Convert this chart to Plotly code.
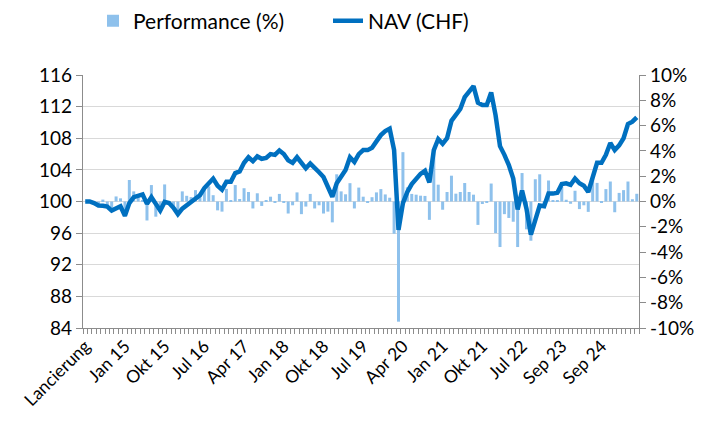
import plotly.graph_objects as go

# --- data ---
tick_labels = ["Lancierung", "Jan 15", "Okt 15", "Jul 16", "Apr 17", "Jan 18", "Okt 18",
               "Jul 19", "Apr 20", "Jan 21", "Okt 21", "Jul 22", "Sep 23", "Sep 24"]
label_step = 9

nav_chf = [
    100.0, 100.0, 99.8, 99.5, 99.45, 99.35, 98.85, 99.2, 99.4, 98.2,
    99.8, 100.55, 100.8, 100.9, 99.7, 100.55, 99.7, 98.85, 99.95, 99.8,
    99.2, 98.4, 99.1, 99.5, 99.9, 100.3, 100.8, 101.7, 102.3, 102.9,
    102.0, 101.5, 102.5, 102.5, 103.6, 103.8, 104.9, 105.6, 105.1, 105.7,
    105.4, 105.5, 106.0, 105.9, 106.45, 106.0, 105.2, 104.9, 105.6, 104.8,
    104.2, 104.8, 104.3, 103.7, 103.1, 102.0, 100.6, 102.3, 103.2, 104.0,
    105.6, 105.0, 106.0, 106.5, 106.5, 106.8, 107.6, 108.4, 108.9, 109.2,
    106.5, 96.4, 99.8, 101.2, 102.2, 102.9, 103.5, 103.9, 102.4, 106.5,
    107.9, 107.3, 108.0, 110.2, 110.9, 111.7, 113.2, 114.0, 114.6, 112.5,
    112.2, 112.2, 113.8, 110.9, 107.0, 105.9, 104.6, 102.9, 99.0, 101.4,
    99.1, 95.8, 97.9, 99.5, 99.4, 101.0, 101.0, 101.1, 102.2, 102.3,
    102.1, 102.9, 102.3, 102.0, 101.2, 103.3, 104.9, 104.9, 105.9, 107.4,
    106.5, 107.1, 108.0, 109.8, 110.1, 110.65,
]

performance_pct = [
    0.0, -0.1, -0.2, -0.3, 0.15, -0.3, -0.5, 0.4, 0.25, -1.2,
    1.7, 0.8, 0.5, 0.1, -1.5, 1.3, -1.2, -0.8, 1.35, -0.2,
    -0.5, -0.8, 0.8, 0.45, 0.35, 0.9, 0.65, 0.9, 1.2, 0.5,
    -0.7, -0.8, 1.0, 0.05, 1.3, 0.2, 1.05, 0.75, -0.55, 0.65,
    -0.35, 0.12, 0.38, -0.05, 0.6, -0.1, -0.95, -0.3, 0.72, -1.0,
    -0.4, 0.6, -0.55, -0.3, -0.95, -0.8, -1.65, 2.15, 0.8, 0.57,
    1.45, -0.55, 1.1, 0.38, -0.04, 0.34, 0.72, 0.98, 0.56, 0.3,
    -2.55, -9.5, 3.9, 1.12, 0.6, 0.54, 0.46, 0.44, -1.45, 4.0,
    1.33, -0.65, 0.75, 2.04, 0.62, 0.75, 1.46, 0.75, 0.54, -1.85,
    -0.2, -0.07, 1.42, -2.5, -3.6, -1.0, -1.3, -1.6, -3.6, 2.25,
    -2.2, -3.1, 1.76, 2.15, -0.1, 1.66, 0.12, 0.08, 1.15, 0.14,
    -0.18, 0.85, -0.6, -0.3, -0.82, 2.1, 1.47, -0.11, 0.98, 1.58,
    -0.85, 0.68, 0.9, 1.58, 0.18, 0.61,
]

nav_ticks = [84, 88, 92, 96, 100, 104, 108, 112, 116]
pct_ticks = [-10, -8, -6, -4, -2, 0, 2, 4, 6, 8, 10]

# --- build ---
n = len(nav_chf)
x_idx = list(range(n))
tick_pos = [i * label_step for i in range(len(tick_labels))]
pct_text = [f"{v}%" for v in pct_ticks]

FONT = "Lato"
AXIS_GRAY = "#8c8c8c"
W, H = 712, 419   # page body has an 8px margin inside the 720x427 window

fig = go.Figure()
fig.add_trace(go.Bar(
    x=x_idx, y=performance_pct, name="Performance (%)",
    marker=dict(color="#8EC1EC", line=dict(width=0)),
    width=0.68, yaxis="y",
))
fig.add_trace(go.Scatter(
    x=x_idx, y=nav_chf, name="NAV (CHF)", mode="lines",
    line=dict(color="#0070C0", width=4.5), yaxis="y2",
))

fig.update_layout(
    width=W, height=H,
    margin=dict(l=75, r=81, t=67, b=99, autoexpand=False),
    paper_bgcolor="white", plot_bgcolor="white",
    font=dict(family=FONT, size=19, color="#000000"),
    showlegend=True,
    legend=dict(orientation="h", xref="container", yref="container",
                x=85 / W, y=1 - 13 / H, xanchor="left", yanchor="middle",
                font=dict(size=21), itemwidth=30, traceorder="normal",
                entrywidth=190, entrywidthmode="pixels",
                bgcolor="rgba(0,0,0,0)"),
    bargap=0.3,
    xaxis=dict(
        range=[-0.5, n - 0.5], tickmode="array", tickvals=tick_pos, ticktext=tick_labels,
        tickangle=-45, ticks="", showgrid=False, zeroline=False,
        showline=True, linecolor=AXIS_GRAY, linewidth=1.3,
        minor=dict(ticks="outside", tick0=0.5, dtick=1, ticklen=5, tickcolor=AXIS_GRAY,
                   tickwidth=1, showgrid=False),
        tickfont=dict(size=17.5),
    ),
    yaxis=dict(
        side="right", range=[-10, 10], tickmode="array", tickvals=pct_ticks, ticktext=pct_text,
        showgrid=False, zeroline=False, showline=True, linecolor=AXIS_GRAY, linewidth=1.3,
        ticks="outside", ticklen=6, tickcolor=AXIS_GRAY, tickfont=dict(size=19),
    ),
    yaxis2=dict(
        side="left", overlaying="y", range=[84, 116], tickmode="array", tickvals=nav_ticks,
        showgrid=True, gridcolor="#d9d9d9", gridwidth=1.3, zeroline=False,
        showline=True, linecolor=AXIS_GRAY, linewidth=1.3,
        ticks="outside", ticklen=6, tickcolor=AXIS_GRAY, tickfont=dict(size=19),
    ),
)

fig.write_html("out.html")
